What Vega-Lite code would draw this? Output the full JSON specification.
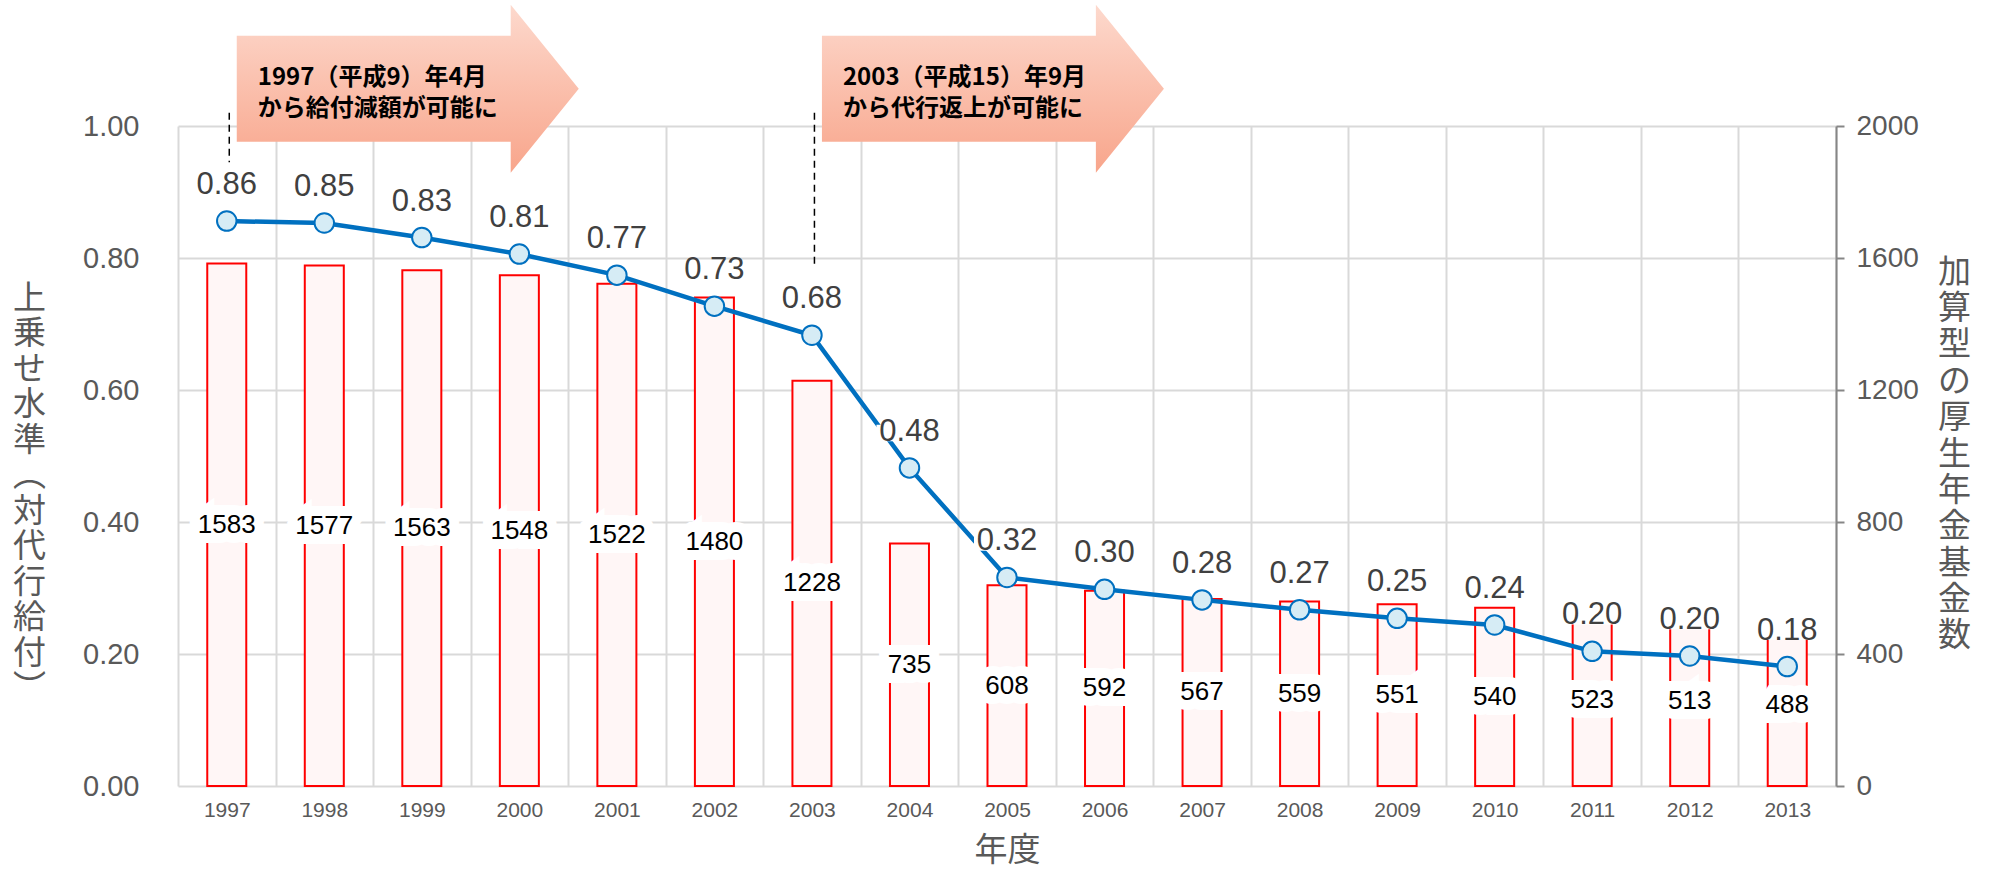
{
  "$schema": "https://vega.github.io/schema/vega-lite/v6.json",
  "width": 1658,
  "height": 660,
  "autosize": {"type": "none"},
  "padding": {"left": 178, "top": 126, "right": 157, "bottom": 84},
  "background": "white",
  "config": {"view": {"stroke": null}},
  "datasets": {
    "main": [
      {"year": "1997", "ratio": 0.856, "count": 1583},
      {"year": "1998", "ratio": 0.853, "count": 1577},
      {"year": "1999", "ratio": 0.831, "count": 1563},
      {"year": "2000", "ratio": 0.806, "count": 1548},
      {"year": "2001", "ratio": 0.774, "count": 1522},
      {"year": "2002", "ratio": 0.727, "count": 1480},
      {"year": "2003", "ratio": 0.683, "count": 1228},
      {"year": "2004", "ratio": 0.482, "count": 735},
      {"year": "2005", "ratio": 0.316, "count": 608},
      {"year": "2006", "ratio": 0.298, "count": 592},
      {"year": "2007", "ratio": 0.282, "count": 567},
      {"year": "2008", "ratio": 0.267, "count": 559},
      {"year": "2009", "ratio": 0.254, "count": 551},
      {"year": "2010", "ratio": 0.244, "count": 540},
      {"year": "2011", "ratio": 0.204, "count": 523},
      {"year": "2012", "ratio": 0.197, "count": 513},
      {"year": "2013", "ratio": 0.181, "count": 488}
    ],
    "notes": [
      {"year": "1997", "label": "1997（平成9）年4月\nから給付減額が可能に", "top": 1.02, "bottom": 0.945},
      {"year": "2003", "label": "2003（平成15）年9月\nから代行返上が可能に", "top": 1.02, "bottom": 0.785}
    ]
  },
  "encoding": {
    "x": {
      "field": "year",
      "type": "ordinal",
      "scale": {"type": "band", "paddingInner": 0, "paddingOuter": 0},
      "axis": {
        "title": "年度",
        "titleFont": "Noto Sans CJK JP",
        "titleFontSize": 33,
        "titleFontWeight": "normal",
        "titleColor": "#595959",
        "titlePadding": 14,
        "labelFont": "Liberation Sans",
        "labelFontSize": 21,
        "labelColor": "#595959",
        "labelAngle": 0,
        "labelPadding": 13,
        "ticks": false,
        "tickSize": 0,
        "domain": false,
        "grid": true,
        "tickBand": "extent",
        "gridColor": "#d9d9d9",
        "gridWidth": 2
      }
    }
  },
  "layer": [
    {
      "data": {"name": "main"},
      "mark": {"type": "bar", "width": {"band": 0.4}, "fill": "#fff6f6", "stroke": "#ff0000", "strokeWidth": 2},
      "encoding": {
        "y": {
          "field": "count",
          "type": "quantitative",
          "scale": {"domain": [0, 2000], "nice": false},
          "axis": {
            "orient": "right",
            "values": [0, 400, 800, 1200, 1600, 2000],
            "format": "d",
            "grid": false,
            "domain": true,
            "domainColor": "#868686",
            "domainWidth": 2,
            "ticks": true,
            "tickColor": "#868686",
            "tickWidth": 2,
            "tickSize": 8,
            "labelFont": "Liberation Sans",
            "labelFontSize": 28,
            "labelColor": "#595959",
            "labelPadding": 12,
            "title": ["加", "算", "型", "の", "厚", "生", "年", "金", "基", "金", "数"],
            "titleFont": "Noto Sans CJK JP",
            "titleFontSize": 33,
            "titleFontWeight": "normal",
            "titleColor": "#595959",
            "titleAngle": 0,
            "titleAlign": "center",
            "titleBaseline": "top",
            "titleLineHeight": 36.4,
            "titleX": 118,
            "titleY": 130
          }
        }
      }
    },
    {
      "data": {"name": "main"},
      "encoding": {
        "y": {"field": "count", "type": "quantitative", "scale": {"domain": [0, 4000], "nice": false}, "axis": null},
        "text": {"field": "count", "type": "quantitative", "format": "d"}
      },
      "layer": [
        {"mark": {"type": "text", "font": "Liberation Sans", "fontSize": 26, "fill": "white", "stroke": "white", "strokeWidth": 20, "strokeJoin": "miter", "baseline": "middle"}},
        {"mark": {"type": "text", "font": "Liberation Sans", "fontSize": 26, "fill": "#000000", "baseline": "middle"}}
      ]
    },
    {
      "encoding": {
        "y": {
          "field": "ratio",
          "type": "quantitative",
          "scale": {"domain": [0, 1], "nice": false},
          "axis": {
            "orient": "left",
            "values": [0, 0.2, 0.4, 0.6, 0.8, 1.0],
            "format": ".2f",
            "grid": true,
            "gridColor": "#d9d9d9",
            "gridWidth": 2,
            "domain": false,
            "ticks": false,
            "tickSize": 0,
            "labelFont": "Liberation Sans",
            "labelFontSize": 29,
            "labelColor": "#595959",
            "labelPadding": 39,
            "title": ["上", "乗", "せ", "水", "準", "︵", "対", "代", "行", "給", "付", "︶"],
            "titleFont": "Noto Sans CJK JP",
            "titleFontSize": 33,
            "titleFontWeight": "normal",
            "titleColor": "#595959",
            "titleAngle": 0,
            "titleAlign": "center",
            "titleBaseline": "top",
            "titleLineHeight": 35.5,
            "titleX": -149,
            "titleY": 156
          }
        }
      },
      "layer": [
        {
          "data": {"name": "main"},
          "mark": {"type": "line", "color": "#0070c0", "strokeWidth": 4.5}
        },
        {
          "data": {"name": "main"},
          "mark": {"type": "point", "shape": "circle", "filled": true, "fill": "#d6ecf5", "stroke": "#0070c0", "strokeWidth": 2, "size": 380, "opacity": 1}
        },
        {
          "data": {"name": "main"},
          "mark": {"type": "point", "shape": "M-1,-0.25H1V0.25H-1Z", "size": 4356, "filled": true, "fill": "white", "strokeWidth": 0, "opacity": 1, "yOffset": -35}
        },
        {
          "data": {"name": "main"},
          "mark": {"type": "text", "font": "Liberation Sans", "fontSize": 31, "dy": -36, "fill": "#404040", "baseline": "middle"},
          "encoding": {"text": {"field": "ratio", "type": "quantitative", "format": ".2f"}}
        },
        {
          "data": {"name": "notes"},
          "mark": {"type": "rule", "color": "#000000", "strokeWidth": 1.5, "strokeDash": [7, 5], "xOffset": 2.5},
          "encoding": {
            "y": {"field": "top", "type": "quantitative"},
            "y2": {"field": "bottom"}
          }
        },
        {
          "data": {"name": "notes"},
          "mark": {
            "type": "point",
            "shape": "M-1,-0.31L0.602,-0.31L0.602,-0.491L1,0L0.602,0.491L0.602,0.31L-1,0.31Z",
            "size": 116964,
            "filled": true,
            "opacity": 1,
            "strokeWidth": 0,
            "color": "#fbbfa9",
            "fill": {
              "gradient": "linear",
              "x1": 0, "y1": 0, "x2": 0, "y2": 1,
              "stops": [
                {"offset": 0, "color": "#fdd9cd"},
                {"offset": 1, "color": "#f8a58b"}
              ]
            },
            "xOffset": 181,
            "yOffset": -24
          },
          "encoding": {
            "y": {"field": "top", "type": "quantitative"}
          }
        },
        {
          "data": {"name": "notes"},
          "mark": {
            "type": "text",
            "font": "Noto Sans CJK JP",
            "fontWeight": "bold",
            "fontSize": 24,
            "lineBreak": "\n",
            "lineHeight": 31.7,
            "align": "left",
            "baseline": "top",
            "dx": 31,
            "dy": -47,
            "fill": "#000000"
          },
          "encoding": {
            "y": {"field": "top", "type": "quantitative"},
            "text": {"field": "label", "type": "nominal"}
          }
        }
      ]
    }
  ],
  "resolve": {"scale": {"y": "independent"}}
}
